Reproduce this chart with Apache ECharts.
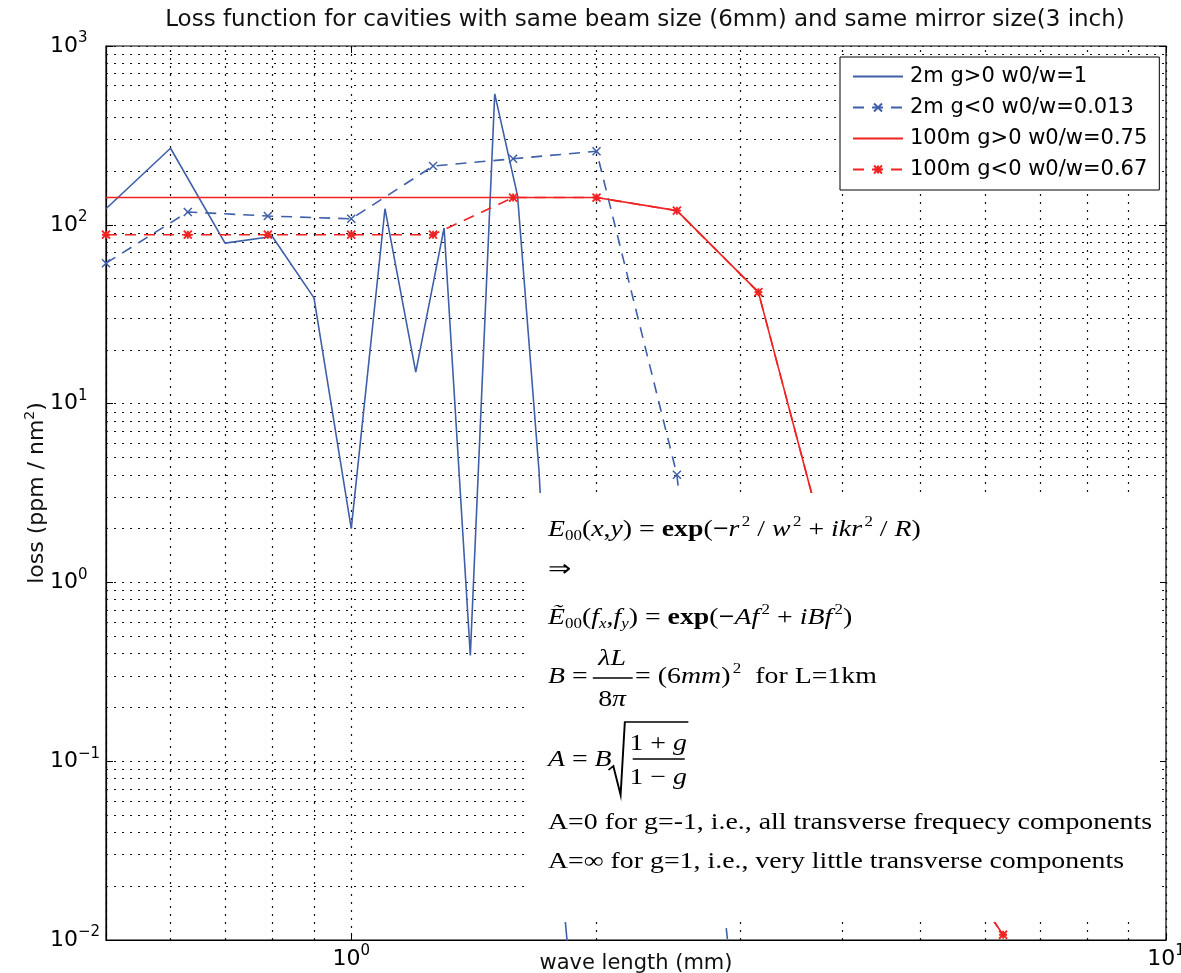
<!DOCTYPE html>
<html>
<head>
<meta charset="utf-8">
<script src="https://cdn.jsdelivr.net/npm/echarts@6/dist/echarts.min.js"></script>
<style>
  html, body { margin: 0; padding: 0; background: #fff; }
  #chart { width: 1181px; height: 973px; }
</style>
</head>
<body>
<div id="chart"></div>
<script>
// Wavelength samples (mm)
const wlFine   = [0.5, 0.6, 0.7, 0.8, 0.9, 1.0, 1.1, 1.2, 1.3, 1.4, 1.5, 1.6, 1.7, 1.8, 1.9];
const wlCoarse = [0.5, 0.63, 0.79, 1.0, 1.26, 1.58, 2.0, 2.51, 3.16, 3.98, 5.01, 6.31];

// Loss (ppm / nm^2) for each cavity
const loss2mPos   = [123, 268, 79, 86, 39, 2.0, 123, 15, 96, 0.39, 540, 145, 4.2, 0.03, 0.002];
const loss2mNeg   = [61, 118, 112, 108, 213, 234, 258, 4.0, 0.00026];
const loss100mPos = [142, 142, 142, 142, 142, 142, 142, 120, 42, 0.79, 0.05, 0.0107];
const loss100mNeg = [88, 88, 88, 88, 88, 142, 142, 120, 42, 0.79, 0.05, 0.0107];

// Decade tick labels
const xDecades = [1, 10];
const yDecades = [0.01, 0.1, 1, 10, 100, 1000];

const seriesNames = ['2m g>0 w0/w=1', '2m g<0 w0/w=0.013', '100m g>0 w0/w=0.75', '100m g<0 w0/w=0.67'];

const BLUE = '#3f5fa8';
const RED = '#f02222';
const SANS = '"DejaVu Sans", "Liberation Sans", sans-serif';
const SERIF = '"Liberation Serif", "Times New Roman", serif';
const CROSS = 'path://M0,0L10,10M10,0L0,10';
const STAR = 'path://M0,0L10,10M10,0L0,10M5,0L5,10M0,5L10,5';

function pairs(xs, ys) { return ys.map((y, i) => [xs[i], y]); }

// Minor grid positions inside each decade
const xMinor = [];
[0.1, 1].forEach(d => { for (let k = 2; k <= 9; k++) { const v = +(k * d).toFixed(3); if (v > 0.5 && v < 10) xMinor.push(v); } });
const yMinor = [];
[0.01, 0.1, 1, 10, 100].forEach(d => { for (let k = 2; k <= 9; k++) yMinor.push(+(k * d).toPrecision(3)); });

const gridDots = { type: [2, 6], color: '#111', width: 1.2 };

function decadeLabel(list) {
  return function (v) {
    const hit = list.find(d => Math.abs(Math.log10(v) - Math.log10(d)) < 1e-6);
    if (hit === undefined) return '';
    const e = Math.round(Math.log10(hit));
    return '{b|10}{e|' + (e < 0 ? '\u2212' + (-e) : e) + '}';
  };
}
const labelRich = {
  b: { fontFamily: SANS, fontSize: 22, color: '#000' },
  e: { fontFamily: SANS, fontSize: 15, color: '#000', padding: [0, 0, 15, 0] }
};

// Formula block text styles
const rich = {
  r: { fontFamily: SERIF, fontSize: 23 },
  i: { fontFamily: SERIF, fontSize: 23, fontStyle: 'italic' },
  b: { fontFamily: SERIF, fontSize: 23, fontWeight: 'bold' },
  s: { fontFamily: SERIF, fontSize: 14, padding: [12, 0, 0, 0] },
  si: { fontFamily: SERIF, fontSize: 14, fontStyle: 'italic', padding: [12, 0, 0, 0] },
  p: { fontFamily: SERIF, fontSize: 14, padding: [0, 0, 15, 2] }
};
function ftext(x, y, text, align) {
  return {
    type: 'text', x: x, y: y, z: 101,
    style: {
      legacy: false, text: text, rich: rich, fill: '#000',
      fontFamily: SERIF, fontSize: 23,
      align: align || 'left', verticalAlign: 'middle'
    }
  };
}
function fline(x1, y1, x2, y2) {
  return { type: 'line', z: 101, shape: { x1: x1, y1: y1, x2: x2, y2: y2 }, style: { stroke: '#000', lineWidth: 1.6 } };
}

// Tick-only mirror axes on the top and right edges of the frame
const frameTicks = { show: true, inside: true, length: 7, lineStyle: { color: '#000' } };

const chart = echarts.init(document.getElementById('chart'), null, { renderer: 'canvas' });

chart.setOption({
  animation: false,
  backgroundColor: '#fff',
  textStyle: { fontFamily: SANS },
  title: {
    text: 'Loss function for cavities with same beam size (6mm) and same mirror size(3 inch)',
    left: 640, top: 4, textAlign: 'center',
    textStyle: { fontFamily: SANS, fontSize: 23, fontWeight: 'normal', color: '#111' }
  },
  grid: {
    left: 106, right: 15, top: 46, bottom: 33,
    outerBoundsMode: 'none',
    show: true, borderColor: '#000', borderWidth: 1.2, backgroundColor: 'transparent'
  },
  legend: {
    orient: 'vertical', left: 840, top: 57,
    data: [
      { name: seriesNames[0], itemStyle: { opacity: 0 } },
      { name: seriesNames[1] },
      { name: seriesNames[2], itemStyle: { opacity: 0 } },
      { name: seriesNames[3] }
    ],
    backgroundColor: '#fff', borderColor: '#000', borderWidth: 1, borderRadius: 0,
    padding: [9, 12, 10, 12], itemGap: 10, itemWidth: 50, itemHeight: 10,
    textStyle: { fontFamily: SANS, fontSize: 21, color: '#000', padding: [0, 0, 0, 2] }
  },
  xAxis: [
    {
      type: 'log', logBase: 10, min: 0.5, max: 10,
      name: 'wave length (mm)', nameLocation: 'middle', nameGap: 13, nameMoveOverlap: false,
      nameTextStyle: { fontFamily: SANS, fontSize: 21, color: '#111' },
      axisLine: { show: true, lineStyle: { color: '#000', width: 1.2 } },
      axisTick: frameTicks,
      axisLabel: { formatter: decadeLabel(xDecades), rich: labelRich, margin: 4, showMinLabel: true, showMaxLabel: true, hideOverlap: false },
      splitLine: { show: true, lineStyle: gridDots }
    },
    {
      type: 'log', logBase: 10, min: 0.5, max: 10, position: 'top',
      axisLine: { show: false }, axisTick: frameTicks,
      axisLabel: { show: false }, splitLine: { show: false }
    }
  ],
  yAxis: [
    {
      type: 'log', logBase: 10, min: 0.01, max: 1000,
      name: 'loss (ppm / nm{s|2})', nameLocation: 'middle', nameGap: 54, nameRotate: 90, nameMoveOverlap: false,
      nameTextStyle: {
        fontFamily: SANS, fontSize: 22, color: '#111',
        rich: { s: { fontFamily: SANS, fontSize: 14, color: '#111', padding: [0, 0, 15, 0] } }
      },
      axisLine: { show: true, lineStyle: { color: '#000', width: 1.2 } },
      axisTick: frameTicks,
      axisLabel: { formatter: decadeLabel(yDecades), rich: labelRich, align: 'left', margin: 56 },
      splitLine: { show: true, lineStyle: gridDots }
    },
    {
      type: 'log', logBase: 10, min: 0.01, max: 1000, position: 'right',
      axisLine: { show: false }, axisTick: frameTicks,
      axisLabel: { show: false }, splitLine: { show: false }
    }
  ],
  series: [
    {
      name: '_grid', type: 'line', data: [], silent: true, z: 1,
      markLine: {
        silent: true, symbol: 'none', z: 1, animation: false,
        label: { show: false },
        lineStyle: gridDots,
        emphasis: { disabled: true },
        data: xMinor.map(v => ({ xAxis: v })).concat(yMinor.map(v => ({ yAxis: v })))
      }
    },
    {
      name: seriesNames[0], type: 'line', z: 3, clip: true,
      data: pairs(wlFine, loss2mPos),
      symbol: 'none', lineStyle: { color: BLUE, width: 1.6 }, itemStyle: { color: BLUE }
    },
    {
      name: seriesNames[1], type: 'line', z: 3, clip: true,
      data: pairs(wlCoarse, loss2mNeg),
      symbol: CROSS, symbolSize: 8,
      lineStyle: { color: BLUE, width: 1.6, type: [11, 8] },
      itemStyle: { color: BLUE, borderColor: BLUE, borderWidth: 1.5 }
    },
    {
      name: seriesNames[2], type: 'line', z: 3, clip: true,
      data: pairs(wlCoarse, loss100mPos),
      symbol: 'none', lineStyle: { color: RED, width: 1.6 }, itemStyle: { color: RED }
    },
    {
      name: seriesNames[3], type: 'line', z: 4, clip: true,
      data: pairs(wlCoarse, loss100mNeg),
      symbol: STAR, symbolSize: 8,
      lineStyle: { color: RED, width: 1.6, type: [11, 8] },
      itemStyle: { color: RED, borderColor: RED, borderWidth: 1.8 }
    }
  ],
  graphic: [
    { type: 'rect', z: 100, shape: { x: 528, y: 493, width: 632, height: 429 }, style: { fill: '#fff' } },
    {
      type: 'group', x: 548, y: 0, scaleX: 1.21, z: 101,
      children: [
        ftext(0, 530, '{i|E}{s|00}{r|(}{i|x}{r|,}{i|y}{r|) = }{b|exp}{r|(}{b|\u2212}{i|r}{p|2}{r| / }{i|w}{p|2}{r| + }{i|ikr}{p|2}{r| / }{i|R}{r|)}'),
        ftext(0, 570, '{r|\u21D2}'),
        ftext(0, 618, '{i|\u1EBC}{s|00}{r|(}{i|f}{si|x}{r|,}{i|f}{si|y}{r|) = }{b|exp}{r|(}{b|\u2212}{i|Af}{p|2}{r| + }{i|iBf}{p|2}{r|)}'),
        ftext(0, 677, '{i|B}{r| =}'),
        ftext(53, 659, '{i|\u03BBL}', 'center'),
        fline(37, 678, 70, 678),
        ftext(53, 700, '{r|8}{i|\u03C0}', 'center'),
        ftext(72, 677, '{r|= (6}{i|mm}{r|)}{p|2}{r|  for L=1km}'),
        ftext(0, 760, '{i|A}{r| = }{i|B}'),
        { type: 'polyline', z: 101, shape: { points: [[50, 770], [54, 766], [60, 795], [63.5, 722], [116, 722]] }, style: { stroke: '#000', fill: null, lineWidth: 1.6 } },
        ftext(91, 744, '{r|1 + }{i|g}', 'center'),
        fline(70, 759, 113, 759),
        ftext(91, 778, '{r|1 \u2212 }{i|g}', 'center'),
        ftext(0, 823, '{r|A=0 for g=-1, i.e., all transverse frequecy components}'),
        ftext(0, 862, '{r|A=\u221E for g=1, i.e., very little transverse components}')
      ]
    }
  ]
});
</script>
</body>
</html>
